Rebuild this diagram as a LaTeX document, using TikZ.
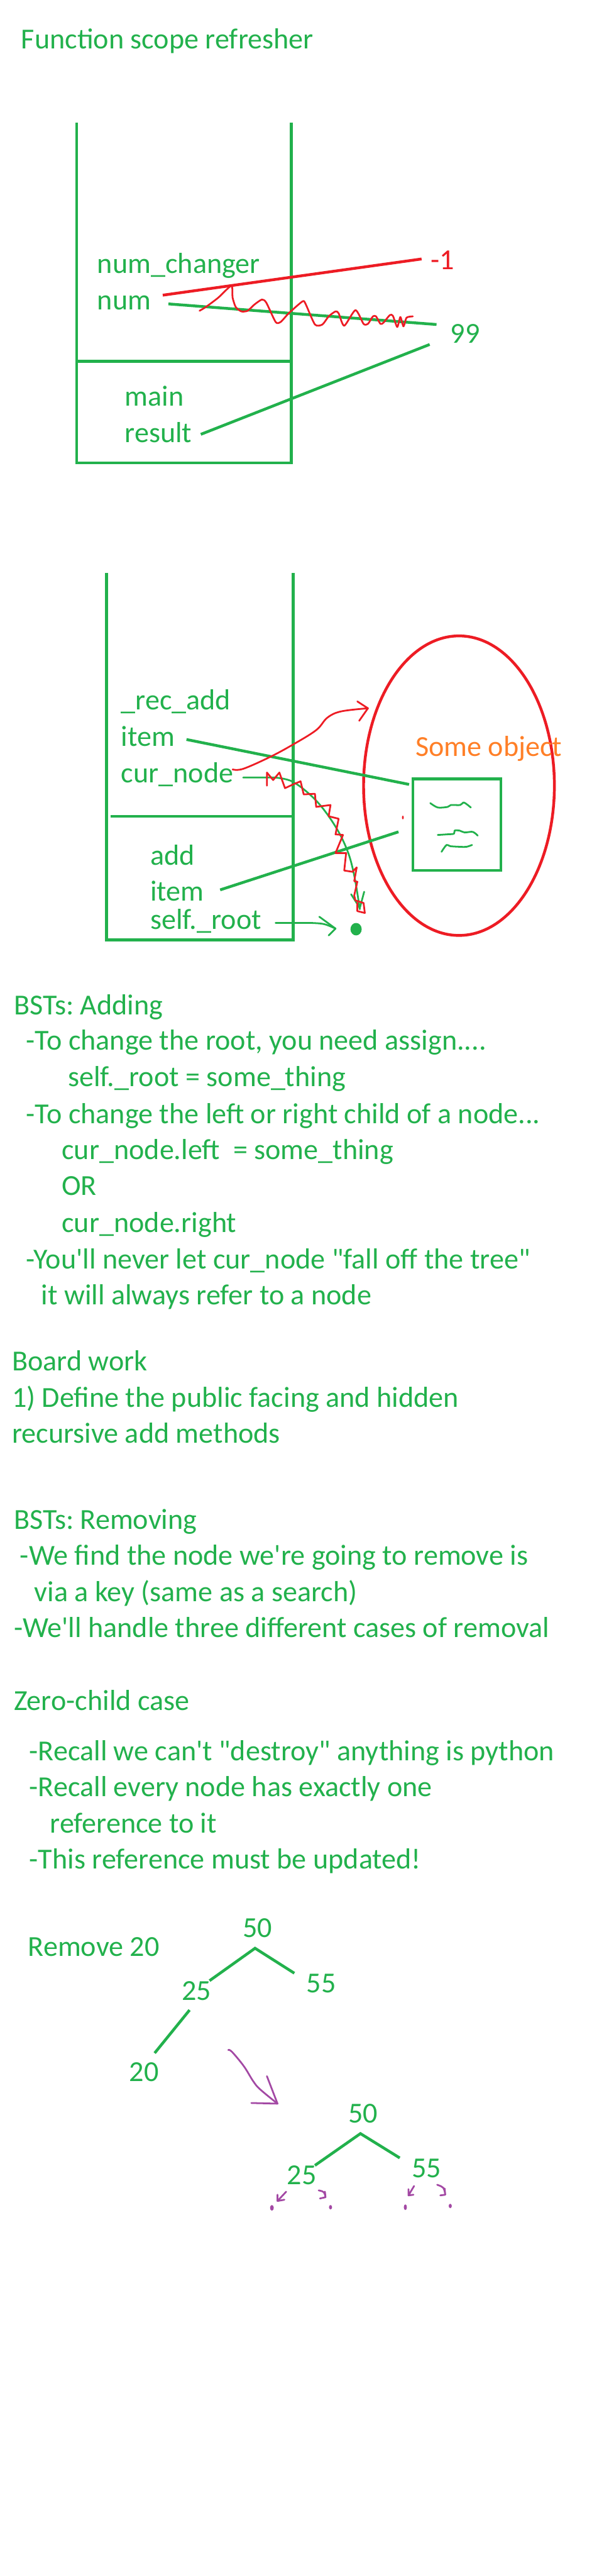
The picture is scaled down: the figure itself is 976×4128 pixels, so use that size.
\documentclass[tikz,border=0pt]{standalone}
\usepackage{fontspec}
\setmainfont{Carlito}[Ligatures=TeXOff]
\usepackage{tikz}
\frenchspacing

\definecolor{pengreen}{RGB}{34,177,76}
\definecolor{penred}{RGB}{237,28,36}
\definecolor{penorange}{RGB}{255,127,39}
\definecolor{penpurple}{RGB}{163,73,164}

\tikzset{
  txt/.style={anchor=base west, inner sep=0pt, text=pengreen, font=\fontsize{46.5}{58}\selectfont},
  numtxt/.style={txt, anchor=base},
  gline/.style={draw=pengreen, line width=4.5pt},
  rline/.style={draw=penred, line width=4.5pt},
  squig/.style={line width=2.8pt, line join=round, line cap=round}
}

\begin{document}
\begin{tikzpicture}[x=1pt,y=-1pt]
    \useasboundingbox (0,0) rectangle (976,4128);
    \node[txt] (title) at (34,78) {Function scope refresher};

    \draw[gline] (123,197) -- (123,742) -- (467,742) -- (467,197);
    \draw[gline] (123,579) -- (467,579);
    \node[txt] (numchanger) at (156,438) {num\_changer};
    \node[txt] (num) at (156,496) {num};
    \node[txt] (main) at (200,651) {main};
    \node[txt] (result) at (200,709) {result};
    \node[txt, text=penred] (minusone) at (691,432) {-1};
    \node[txt] (ninetynine) at (722,550) {99};
    \coordinate (nc) at (261,473);
    \coordinate (ncend) at (676,415);
    \coordinate (nm) at (270,487);
    \coordinate (nmend) at (700,520);
    \coordinate (rs) at (322,696);
    \coordinate (rsend) at (689,552);
    \draw[rline] (nc) -- (ncend);
    \draw[gline] (nm) -- (nmend);
    \draw[gline] (rs) -- (rsend);
    \draw[squig, penred] plot[smooth, tension=0.4] coordinates {(320,498) (330,492) (350,477) (371,458) (373,477) (378,492) (387,499) (397,498) (408,488) (420,480) (427,485) (442,516) (450,516) (463,502) (485,483) (490,487) (505,520) (517,520) (527,507) (538,499) (543,502) (552,522) (570,497) (583,519) (590,519) (598,507) (603,507) (610,519) (615,517) (625,505) (630,506) (637,524) (642,508) (647,523) (652,509) (662,507)};

    \draw[gline] (171,918) -- (171,1506) -- (470,1506) -- (470,918);
    \draw[gline] (177,1308) -- (470,1308);
    \node[txt] (recadd) at (194,1137) {\_rec\_add};
    \node[txt] (item) at (194,1196) {item};
    \node[txt] (curnode) at (194,1254) {cur\_node};
    \node[txt] (add) at (241,1386) {add};
    \node[txt] (additem) at (241,1444) {item};
    \node[txt] (selfroot) at (241,1489) {self.\_root};
    \draw[penred, line width=4.5pt] (736,1259) ellipse [x radius=153pt, y radius=240pt];
    \node[txt, text=penorange] (someobj) at (666,1212) {Some object};
    \draw[gline] (662,1248) rectangle (803,1395);
    \draw[squig, pengreen] plot[smooth, tension=0.5] coordinates {(690,1287) (702,1294) (718,1293) (723,1290) (738,1290) (744,1286) (755,1294)};
    \draw[squig, pengreen] plot[smooth, tension=0.5] coordinates {(702,1338) (717,1337) (728,1336) (729,1331) (737,1331) (745,1334) (758,1333) (766,1339)};
    \draw[squig, pengreen] plot[smooth, tension=0.5] coordinates {(708,1365) (716,1354) (722,1356) (738,1357) (748,1357) (757,1354)};
    \coordinate (it) at (299,1185);
    \coordinate (itend) at (656,1257);
    \coordinate (ai) at (353,1426);
    \coordinate (aiend) at (639,1333);
    \draw[gline] (it) -- (itend);
    \draw[gline] (ai) -- (aiend);
    \fill[penred] (646,1310) ellipse [x radius=1.5pt, y radius=3pt];
    \draw[squig, pengreen] (390,1246) -- (440,1246) plot[smooth, tension=0.6] coordinates {(440,1246) (470,1253) (507,1283) (537,1323) (557,1363) (568,1403) (577,1457)};
    \draw[squig, pengreen] (563,1433) -- (577,1455) -- (584,1429);
    \draw[squig, penred] (428,1259) -- (428,1238) -- (438,1250) -- (448,1238) -- (457,1263) -- (470,1257) -- (482,1252) -- (487,1273) -- (505,1272) -- (507,1293) -- (530,1290) -- (527,1308) -- (543,1312) -- (538,1337) -- (550,1338) -- (538,1367) -- (555,1367) -- (552,1395) -- (565,1397) -- (572,1390) -- (568,1412) -- (573,1413) -- (568,1435) -- (570,1443) -- (583,1447) -- (585,1463) -- (573,1460) -- (573,1447);
    \draw[squig, penred] plot[smooth, tension=0.6] coordinates {(373,1233) (390,1232) (433,1213) (470,1193) (507,1170) (525,1150) (547,1140) (590,1135)};
    \draw[squig, penred] (573,1124) -- (590,1135) -- (576,1155);
    \coordinate (rootdot) at (571,1489);
    \draw[squig, pengreen] (442,1479) -- (500,1479) .. controls (520,1480) .. (538,1488);
    \draw[squig, pengreen] (512,1469) -- (538,1488) -- (527,1499);
    \fill[pengreen] (rootdot) ellipse [x radius=9pt, y radius=10pt];

    \node[txt] (bstadd) at (22,1626) {BSTs: Adding};
    \node[txt] (addl1) at (42,1683) {-To change the root, you need assign....};
    \node[txt] (addl2) at (109,1741) {self.\_root = some\_thing};
    \node[txt] (addl3) at (42,1800) {-To change the left or right child of a node...};
    \node[txt] (addl4) at (99,1858) {cur\_node.left\ \ = some\_thing};
    \node[txt] (addl5) at (99,1915) {OR};
    \node[txt] (addl6) at (99,1975) {cur\_node.right};
    \node[txt] (addl7) at (42,2033) {-You'll never let cur\_node "fall off the tree"};
    \node[txt] (addl8) at (66,2091) {it will always refer to a node};
    \node[txt] (board) at (19,2196) {Board work};
    \node[txt] (boardl1) at (19,2255) {1) Define the public facing and hidden};
    \node[txt] (boardl2) at (19,2312) {recursive add methods};

    \node[txt] (bstrem) at (22,2450) {BSTs: Removing};
    \node[txt] (reml1) at (32,2508) {-We find the node we're going to remove is};
    \node[txt] (reml2) at (55,2566) {via a key (same as a search)};
    \node[txt] (reml3) at (22,2624) {-We'll handle three different cases of removal};
    \node[txt] (zero) at (22,2741) {Zero-child case};
    \node[txt] (zerol1) at (47,2821) {-Recall we can't "destroy" anything is python};
    \node[txt] (zerol2) at (47,2879) {-Recall every node has exactly one};
    \node[txt] (zerol3) at (80,2937) {reference to it};
    \node[txt] (zerol4) at (47,2995) {-This reference must be updated!};

    \node[txt] (remove) at (45,3135) {Remove 20};
    \node[numtxt] (a50) at (413,3105) {50};
    \node[numtxt] (a25) at (315,3205) {25};
    \node[numtxt] (a55) at (515,3193) {55};
    \node[numtxt] (a20) at (231,3335) {20};
    \draw[gline] (336,3174) -- (409,3122) -- (472,3162);
    \draw[gline] (304,3221) -- (248,3290);
    \draw[squig, penpurple] plot[smooth, tension=0.6] coordinates {(366,3285) (372,3288) (391,3311) (406,3335) (417,3348) (445,3371)};
    \draw[squig, penpurple] (428,3327) -- (445,3371) -- (403,3370);

    \node[numtxt] (b50) at (582,3402) {50};
    \node[numtxt] (b25) at (484,3501) {25};
    \node[numtxt] (b55) at (684,3490) {55};
    \draw[gline] (505,3470) -- (578,3419) -- (641,3458);
    \draw[squig, penpurple] (459,3512) -- (445,3527) (445,3517) -- (445,3527) -- (456,3525);
    \draw[squig, penpurple] (511,3510) .. controls (520,3512) .. (522,3521) (513,3523) -- (522,3521) -- (521,3512);
    \draw[squig, penpurple] (664,3503) -- (655,3518) (655,3508) -- (655,3518) -- (663,3517);
    \draw[squig, penpurple] (701,3501) .. controls (712,3505) .. (714,3517) (706,3518) -- (714,3517) -- (713,3507);
    \fill[penpurple] (436,3538) ellipse [x radius=3pt, y radius=4.5pt];
    \fill[penpurple] (530,3537) ellipse [x radius=2.5pt, y radius=3.5pt];
    \fill[penpurple] (650,3537) ellipse [x radius=2.5pt, y radius=4.5pt];
    \fill[penpurple] (722,3535) ellipse [x radius=2.5pt, y radius=3.5pt];
\end{tikzpicture}
\end{document}
